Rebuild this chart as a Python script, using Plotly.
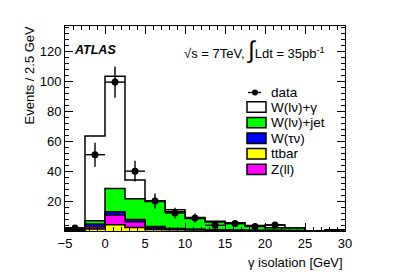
import numpy as np
import plotly.graph_objects as go

# ---- data ----
bin_edges = [-5, -2.5, 0, 2.5, 5, 7.5, 10, 12.5, 15, 17.5, 20, 22.5, 25, 27.5, 30]
ttbar  = [0.3, 1.3, 4.2, 2.4, 1.0, 0.9, 0.7, 0.5, 0.3, 0.2, 0.2, 0.1, 0.0, 0.0]
zll    = [0.3, 1.6, 6.5, 3.8, 1.0, 0.3, 0.3, 0.2, 0.1, 0.1, 0.1, 0.1, 0.0, 0.0]
wtau   = [0.2, 1.8, 2.2, 1.5, 1.0, 0.4, 0.2, 0.2, 0.2, 0.2, 0.2, 0.1, 0.0, 0.0]
wjet   = [0.4, 2.2, 15.5, 13.8, 16.7, 11.3, 7.2, 5.1, 4.4, 2.8, 1.7, 1.7, 0.0, 0.5]
wgamma = [0.8, 56.6, 75.1, 12.5, 0.5, 1.3, 0.7, 0.5, 0.5, 0.4, 1.8, 0.0, 0.2, 0.3]

data_x   = [-3.75, -1.25, 1.25, 3.75, 6.25, 8.75, 11.25, 13.75, 16.25, 18.75, 21.25]
data_y   = [2, 51, 99.5, 40, 20, 12, 8.7, 3.8, 5, 3, 4]
data_err = [1.5, 8, 10.5, 7, 5, 3.5, 3, 2, 2.2, 2, 2]

x_ticks = [-5, 0, 5, 10, 15, 20, 25, 30]
y_ticks = [20, 40, 60, 80, 100, 120]

# stack order bottom -> top
layers = [
    ("ttbar", ttbar, "#ffff00"),
    ("Z(ll)", zll, "#ff00ff"),
    ("W(τν)", wtau, "#0000ff"),
    ("W(lν)+jet", wjet, "#00ff00"),
    ("W(lν)+γ", wgamma, "#ffffff"),
]
legend_order = [4, 3, 2, 0, 1]
cum = np.cumsum(np.array([l[1] for l in layers]), axis=0)

W, H = 407, 276
ML, MR, MT, MB = 65, 62, 26, 45
PW, PH = W - ML - MR, H - MT - MB


def px(x):
    return (x - ML) / PW


def py(y):
    return (H - MB - y) / PH


fig = go.Figure()
FONT = "Liberation Sans, Arial, sans-serif"

# draw cumulative histograms from top layer down
for i in range(len(layers) - 1, -1, -1):
    name, _, color = layers[i]
    vals = list(cum[i]) + [cum[i][-1]]
    fig.add_trace(go.Scatter(
        x=bin_edges, y=vals, mode="lines", line_shape="hv",
        line=dict(color="black", width=1.5), fill="tozeroy",
        fillcolor=color, showlegend=False, hoverinfo="skip", name=name))

# data points
fig.add_trace(go.Scatter(
    x=data_x, y=data_y, mode="markers", name="data",
    marker=dict(color="black", size=7),
    error_y=dict(type="data", array=data_err, color="black", thickness=1.4, width=0),
    error_x=dict(type="constant", value=1.25, color="black", thickness=1.4, width=0),
    showlegend=False))

# ---- manual legend (ROOT style) ----
shapes = []
annotations = []
leg_y0 = 92.5
leg_dy = 15.6
# data entry
shapes.append(dict(type="line", xref="paper", yref="paper",
                   x0=px(248), x1=px(261), y0=py(leg_y0), y1=py(leg_y0),
                   line=dict(color="black", width=1.3)))
shapes.append(dict(type="circle", xref="paper", yref="paper",
                   x0=px(252), x1=px(258), y0=py(leg_y0 - 3), y1=py(leg_y0 + 3),
                   fillcolor="black", line=dict(color="black", width=0)))
annotations.append(dict(text="data", xref="paper", yref="paper",
                        x=px(268.5), y=py(leg_y0), xanchor="left", yanchor="middle",
                        showarrow=False, font=dict(size=13.5)))
for k, idx in enumerate(legend_order):
    name, _, color = layers[idx]
    yc = leg_y0 + 14.5 + k * leg_dy
    shapes.append(dict(type="rect", xref="paper", yref="paper",
                       x0=px(247), x1=px(266), y0=py(yc - 5.2), y1=py(yc + 5.2),
                       fillcolor=color, line=dict(color="black", width=1.5)))
    annotations.append(dict(text=name, xref="paper", yref="paper",
                            x=px(268.5), y=py(yc), xanchor="left", yanchor="middle",
                            showarrow=False, font=dict(size=13.5)))

annotations += [
    dict(text="<b><i>ATLAS</i></b>", xref="paper", yref="paper",
         x=px(72), y=py(50), xanchor="left", yanchor="middle",
         showarrow=False, font=dict(size=12.5)),
    dict(text="√s = 7TeV, <span style='font-size:24px'>∫</span>Ldt = 35pb<sup>-1</sup>",
         xref="paper", yref="paper", x=px(327), y=py(50),
         xanchor="right", yanchor="middle", showarrow=False, font=dict(size=13)),
    dict(text="Events / 2.5 GeV", xref="paper", yref="paper",
         x=px(29), y=py(75.5), xanchor="center", yanchor="middle",
         textangle=-90, showarrow=False, font=dict(size=13)),
    dict(text="γ isolation [GeV]", xref="paper", yref="paper",
         x=1, y=py(262), xanchor="right", yanchor="middle",
         showarrow=False, font=dict(size=13)),
]

axis_common = dict(showline=True, linecolor="black", linewidth=1, mirror="ticks",
                   ticks="inside", tickcolor="black", showgrid=False, zeroline=False,
                   tickfont=dict(size=13, color="black", family=FONT))

fig.update_xaxes(range=[-5, 30], tickvals=x_ticks, ticklen=8,
                 minor=dict(dtick=1, tick0=0, ticks="inside", ticklen=4, tickcolor="black"),
                 **axis_common)
fig.update_yaxes(range=[0, 137], tickvals=y_ticks, ticklen=8,
                 minor=dict(dtick=4, tick0=0, ticks="inside", ticklen=4, tickcolor="black"),
                 **axis_common)

fig.update_layout(
    width=W, height=H,
    margin=dict(l=ML, r=MR, t=MT, b=MB),
    plot_bgcolor="white", paper_bgcolor="white",
    showlegend=False,
    font=dict(family=FONT, size=13, color="black"),
    shapes=shapes,
    annotations=annotations,
)

fig.write_html("out.html", config={"displayModeBar": False},
               post_script="document.body.style.margin='0';")
